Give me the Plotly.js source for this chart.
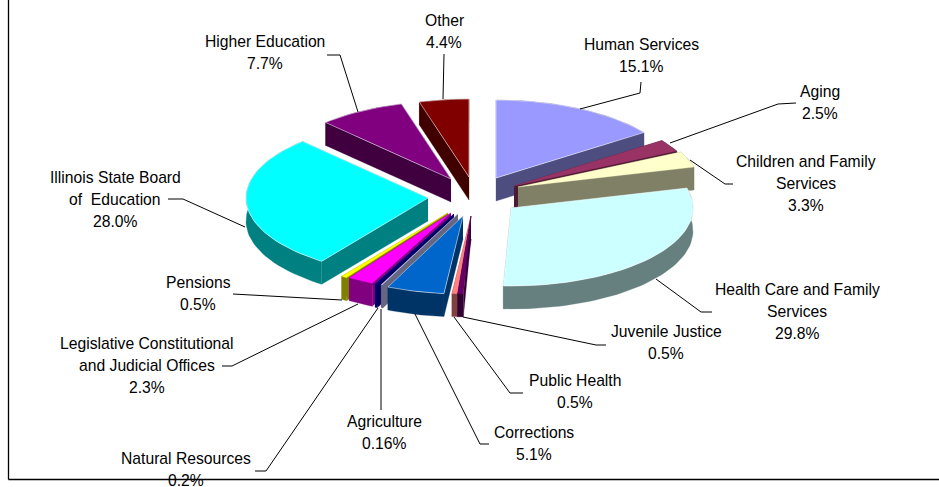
<!DOCTYPE html>
<html>
<head>
<meta charset="utf-8">
<script src="https://cdn.plot.ly/plotly-3.0.1.min.js"></script>
<style>html,body{margin:0;padding:0;background:#fff}#chart{width:939px;height:487px}</style>
</head>
<body>
<div id="chart"></div>
<script>
// ---- data ----
var categories = ['Human Services','Aging','Children and Family Services','Health Care and Family Services','Juvenile Justice','Public Health','Corrections','Agriculture','Natural Resources','Legislative Constitutional and Judicial Offices','Pensions','Illinois State Board of Education','Higher Education','Other'];
var values = [15.1,2.5,3.3,29.8,0.5,0.5,5.1,0.16,0.2,2.3,0.5,28.0,7.7,4.4];
var valueLabels = ['15.1%','2.5%','3.3%','29.8%','0.5%','0.5%','5.1%','0.16%','0.2%','2.3%','0.5%','28.0%','7.7%','4.4%'];
var nameLines = [['Human Services'],['Aging'],['Children and Family','Services'],['Health Care and Family','Services'],['Juvenile Justice'],['Public Health'],['Corrections'],['Agriculture'],['Natural Resources'],['Legislative Constitutional','and Judicial Offices'],['Pensions'],['Illinois State Board','of  Education'],['Higher Education'],['Other']];

// ---- styles ----
var topColors = ['#9999FF','#993366','#FFFFCC','#CCFFFF','#660066','#FF8080','#0066CC','#CCCCFF','#000080','#FF00FF','#FFFF00','#00FFFF','#800080','#800000'];
var wallColors = ['#4D4D80','#4D1A33','#808066','#668080','#330033','#804040','#003366','#666680','#000060','#800080','#808000','#008080','#400040','#400000'];

// ---- placement (reference pixels: the axes below span the page) ----
var radiusX = 182, radiusY = 78, depth = 23;
var apexX = [496,514,518,511,471,471,463,458,454,451,448,428,451,469];
var apexY = [178,186,187,208,216,216,216,214,214,213,213,198,179,177];
var labelX = [641,820,806,797,666,575,534,384,186,147,198,115,265,444];
var labelY = [44,91,161,289,331,380,432,421,458,343,282,177,41,20];
var lineGap = 22.2;
var leaders = [
  [[641,82],[640,93],[580,109]],
  [[796,103],[778,104],[670,143]],
  [[733,184],[725,184],[690,160]],
  [[712,312],[701,312],[656,279]],
  [[606,345],[596,345],[463,317]],
  [[523,393],[510,393],[454,317]],
  [[489,444],[480,444],[415,314]],
  [[381,410],[381,309]],
  [[255,471],[266,471],[378,308]],
  [[222,366],[232,366],[358,304]],
  [[233,294],[342,300]],
  [[168,199],[183,199],[245,227]],
  [[327,55],[340,55],[358,112]],
  [[444,54],[443,99]]
];

var total = values.reduce(function(a,b){return a+b;},0);
var cum = 0;
var slices = values.map(function(v,i){
  var s = {i:i, start:cum/total*2*Math.PI};
  cum += v;
  s.end = cum/total*2*Math.PI;
  s.mid = (s.start+s.end)/2;
  return s;
});
function rim(s,a,dz){ return [apexX[s.i]+radiusX*Math.sin(a), apexY[s.i]-radiusY*Math.cos(a)+dz]; }
function arcPoints(s,dz){
  var n = Math.max(2,Math.ceil((s.end-s.start)/(Math.PI/90))), pts=[];
  for(var k=0;k<=n;k++){ pts.push(rim(s,s.start+(s.end-s.start)*k/n,dz)); }
  return pts;
}
function poly(pts,fill,name,edge){
  return {type:'scatter',mode:'lines',x:pts.map(function(p){return p[0];}),y:pts.map(function(p){return p[1];}),
    fill:'toself',fillcolor:fill,line:{color:edge||fill,width:edge?0.7:0.3},hoverinfo:'text',text:name,showlegend:false};
}
var traces = [];
slices.slice().sort(function(a,b){return Math.cos(b.mid)-Math.cos(a.mid);}).forEach(function(s){
  var i=s.i, ax=apexX[i], ay=apexY[i], nm=categories[i]+' '+valueLabels[i];
  // outer rim wall
  var outer = arcPoints(s,0), lower = arcPoints(s,depth).reverse();
  traces.push(poly(outer.concat(lower),wallColors[i],nm));
  // radial walls
  [s.start,s.end].forEach(function(a){
    var p=rim(s,a,0);
    traces.push(poly([[ax,ay],p,[p[0],p[1]+depth],[ax,ay+depth]],wallColors[i],nm));
  });
  // top face
  var edge = values[i]>=4 ? 'rgba(255,255,255,0.75)' : null;
  traces.push(poly([[ax,ay]].concat(arcPoints(s,0)).concat([[ax,ay]]),topColors[i],nm,edge));
});
leaders.forEach(function(l){
  traces.push({type:'scatter',mode:'lines',x:l.map(function(p){return p[0];}),y:l.map(function(p){return p[1];}),
    line:{color:'#000',width:1},hoverinfo:'skip',showlegend:false});
});

var annotations = [];
categories.forEach(function(c,i){
  nameLines[i].concat([valueLabels[i]]).forEach(function(t,k){
    annotations.push({x:labelX[i],y:labelY[i]+k*lineGap,xref:'x',yref:'y',text:t.replace(/  /g,' \u00a0'),showarrow:false,
      xanchor:'center',yanchor:'middle',borderpad:0,borderwidth:0,font:{family:'"Liberation Sans",Arial,sans-serif',size:15.7,color:'#000'}});
  });
});

var layout = {
  width:939,height:487,margin:{l:0,r:0,t:0,b:0},paper_bgcolor:'#fff',plot_bgcolor:'#fff',showlegend:false,
  xaxis:{range:[0,939],visible:false,fixedrange:true},
  yaxis:{range:[487,0],visible:false,fixedrange:true},
  annotations:annotations,
  shapes:[
    {type:'line',x0:8.5,x1:8.5,y0:0,y1:479.5,xref:'x',yref:'y',line:{color:'#000',width:1.3}},
    {type:'line',x0:8.5,x1:939,y0:479.5,y1:479.5,xref:'x',yref:'y',line:{color:'#000',width:1.3}}
  ]
};
Plotly.newPlot('chart',traces,layout,{displayModeBar:false});
</script>
</body>
</html>
